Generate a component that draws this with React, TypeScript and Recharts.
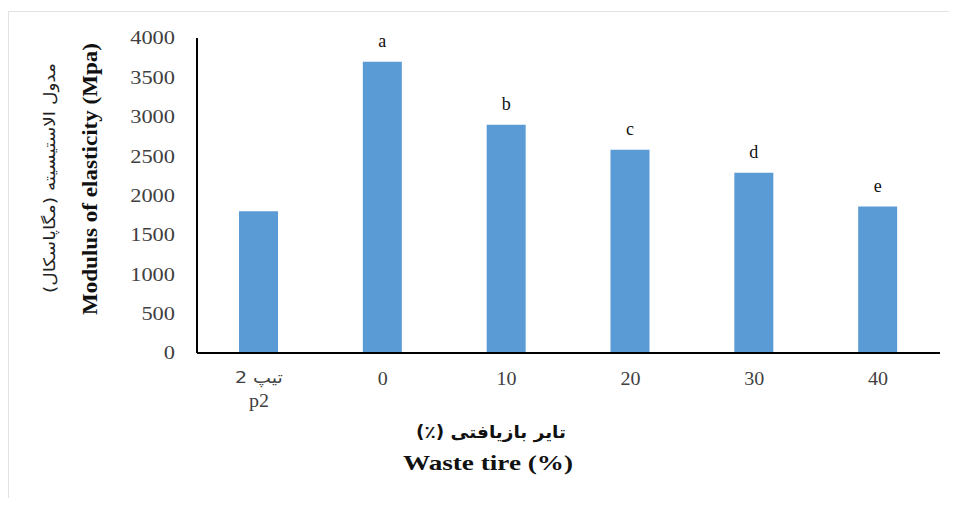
import React from 'react';
import { BarChart, Bar, XAxis, YAxis, LabelList, Label } from 'recharts';

const categories = ['p2', '0', '10', '20', '30', '40'];
const categoryPersian = ['تیپ 2', '', '', '', '', ''];
const modulusValues = [1800, 3700, 2900, 2580, 2290, 1860];
const groupLetters = ['', 'a', 'b', 'c', 'd', 'e'];
const yTicks = [0, 500, 1000, 1500, 2000, 2500, 3000, 3500, 4000];

const yTitleEn = 'Modulus  of elasticity (Mpa)';
const yTitleFa = 'مدول الاستیسیته (مگاپاسکال)';
const xTitleEn = 'Waste tire (%)';
const xTitleFa = 'تایر بازیافتی (٪)';

const data = categories.map((c, i) => ({
  cat: c,
  fa: categoryPersian[i],
  value: modulusValues[i],
  letter: groupLetters[i],
}));

const SERIF = "'Liberation Serif', 'Times New Roman', serif";
const ARABIC = "'DejaVu Sans', 'Noto Sans', sans-serif";

const XTick = (props: any) => {
  const { x, y, payload, index } = props;
  const fa = categoryPersian[index] || '';
  const s = String(payload.value);
  const num = (
    <text
      x={x}
      y={fa ? y + 22 : y}
      dy="0.71em"
      textAnchor="middle"
      fontSize={18}
      fill="#404040"
      fontFamily={SERIF}
      textLength={s.length * 10}
      lengthAdjust="spacingAndGlyphs"
    >
      {s}
    </text>
  );
  if (fa) {
    return (
      <g>
        <text x={x} y={y} dy="0.71em" textAnchor="middle" fontSize={16} fill="#404040" fontFamily={ARABIC} direction="rtl" textLength={48} lengthAdjust="spacingAndGlyphs">
          {fa}
        </text>
        {num}
      </g>
    );
  }
  return num;
};

const YTick = (props: any) => {
  const { x, y, payload } = props;
  const s = String(payload.value);
  return (
    <text
      x={x}
      y={y}
      dy="0.355em"
      textAnchor="end"
      fontSize={18}
      fill="#404040"
      fontFamily={SERIF}
      textLength={s.length * 11.2}
      lengthAdjust="spacingAndGlyphs"
    >
      {s}
    </text>
  );
};

const YTitle = () => (
  <g>
    <text x={40} y={166} transform="rotate(-90, 40, 166)" textAnchor="middle" dominantBaseline="central" fontSize={16} fill="#222" fontFamily={ARABIC} direction="rtl" textLength={230} lengthAdjust="spacingAndGlyphs">
      {yTitleFa}
    </text>
    <text x={81} y={167} transform="rotate(-90, 81, 167)" textAnchor="middle" dominantBaseline="central" fontSize={21} fontWeight="bold" fill="#111" fontFamily={SERIF} textLength={272} lengthAdjust="spacingAndGlyphs">
      {yTitleEn}
    </text>
  </g>
);

const XTitle = () => (
  <g>
    <text x={482} y={420} textAnchor="middle" dominantBaseline="central" fontSize={17} fontWeight="bold" fill="#111" fontFamily={ARABIC} direction="rtl" textLength={150} lengthAdjust="spacingAndGlyphs">
      {xTitleFa}
    </text>
    <text x={479} y={450} textAnchor="middle" dominantBaseline="central" fontSize={22} fontWeight="bold" fill="#111" fontFamily={SERIF} textLength={170} lengthAdjust="spacingAndGlyphs">
      {xTitleEn}
    </text>
  </g>
);

export default function App() {
  return (
    <div style={{ paddingTop: 3 }}>
      <div style={{ borderTop: '1px solid #e3e3e3', borderLeft: '1px solid #e3e3e3', background: '#fff' }}>
        <BarChart width={940} height={486} data={data} margin={{ top: 26, right: 9, bottom: 0, left: 0 }}>
          <XAxis
            dataKey="cat"
            height={145}
            axisLine={{ stroke: '#000', strokeWidth: 2 }}
            tickLine={false}
            tickSize={6}
            tickMargin={13}
            tick={<XTick />}
            interval={0}
          >
            <Label content={<XTitle />} />
          </XAxis>
          <YAxis
            width={188}
            domain={[0, 4000]}
            ticks={yTicks}
            interval={0}
            axisLine={{ stroke: '#000', strokeWidth: 2 }}
            tickLine={false}
            tickSize={6}
            tickMargin={16}
            tick={<YTick />}
          >
            <Label content={<YTitle />} />
          </YAxis>
          <Bar dataKey="value" fill="#5B9BD5" barSize={39} isAnimationActive={false}>
            <LabelList dataKey="letter" position="top" offset={15} fill="#111" fontSize={18} fontFamily={SERIF} />
          </Bar>
        </BarChart>
      </div>
    </div>
  );
}
